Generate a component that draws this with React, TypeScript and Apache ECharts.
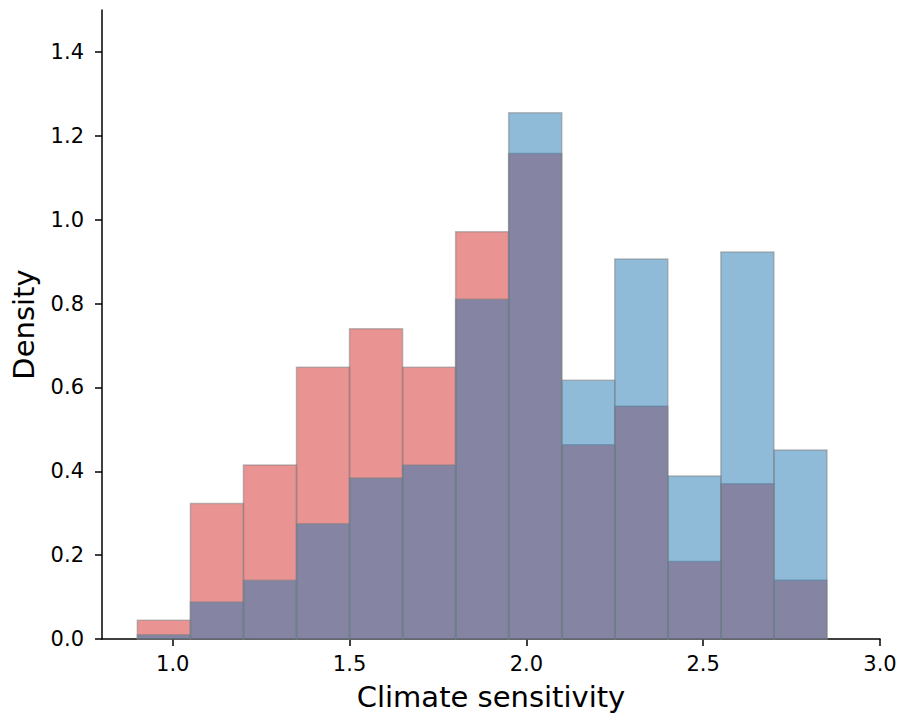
import React, { useEffect, useRef } from "react";
import * as echarts from "echarts";

const binEdges = [0.9, 1.05, 1.2, 1.35, 1.5, 1.65, 1.8, 1.95, 2.1, 2.25, 2.4, 2.55, 2.7, 2.85];
const redDensity = [0.045, 0.323, 0.415, 0.648, 0.740, 0.648, 0.971, 1.158, 0.463, 0.555, 0.185, 0.370, 0.140];
const blueDensity = [0.010, 0.088, 0.140, 0.275, 0.384, 0.415, 0.810, 1.255, 0.617, 0.906, 0.389, 0.923, 0.451];
const xTicks = [1.0, 1.5, 2.0, 2.5, 3.0];
const yTicks = [0, 0.2, 0.4, 0.6, 0.8, 1.0, 1.2, 1.4];

const toData = (vals: number[]) => vals.map((v, i) => [binEdges[i], binEdges[i + 1], v]);

const makeSeries = (vals: number[], fill: string) => ({
  type: "custom",
  data: toData(vals),
  encode: { x: [0, 1], y: 2 },
  renderItem: (params: any, api: any) => {
    const p0 = api.coord([api.value(0), 0]);
    const p1 = api.coord([api.value(1), api.value(2)]);
    return {
      type: "rect",
      shape: { x: p0[0], y: p1[1], width: p1[0] - p0[0], height: p0[1] - p1[1] },
      style: { fill, stroke: "rgba(128,128,128,0.5)", lineWidth: 1.5 },
    };
  },
});

export default function App() {
  const ref = useRef<HTMLDivElement>(null);
  useEffect(() => {
    const chart = echarts.init(ref.current!, null, { renderer: "svg" });
    const font = "DejaVu Sans";
    chart.setOption({
      animation: false,
      grid: { left: 102, right: 21, top: 10, bottom: 75 },
      xAxis: {
        type: "value",
        min: 0.8,
        max: 3.0,
        name: "Climate sensitivity",
        nameLocation: "middle",
        nameGap: 43,
        nameTextStyle: { fontFamily: font, fontSize: 29, color: "#000" },
        axisLine: { show: true, lineStyle: { color: "#000", width: 1.5 } },
        axisTick: { show: true, length: 7, lineStyle: { color: "#000", width: 1.5 }, customValues: xTicks },
        axisLabel: {
          fontFamily: font, fontSize: 21, color: "#000", margin: 14,
          customValues: xTicks,
          formatter: (v: number) => v.toFixed(1),
        },
        splitLine: { show: false },
      },
      yAxis: {
        type: "value",
        min: 0,
        max: 1.5,
        name: "Density",
        nameLocation: "middle",
        nameGap: 64,
        nameTextStyle: { fontFamily: font, fontSize: 29, color: "#000" },
        axisLine: { show: true, lineStyle: { color: "#000", width: 1.5 } },
        axisTick: { show: true, length: 7, lineStyle: { color: "#000", width: 1.5 }, customValues: yTicks },
        axisLabel: {
          fontFamily: font, fontSize: 21, color: "#000", margin: 18,
          customValues: yTicks,
          formatter: (v: number) => v.toFixed(1),
        },
        splitLine: { show: false },
      },
      series: [
        makeSeries(redDensity, "rgba(214,39,40,0.5)"),
        makeSeries(blueDensity, "rgba(31,119,180,0.5)"),
      ],
    });
    return () => chart.dispose();
  }, []);
  return <div ref={ref} style={{ position: "absolute", left: 0, top: 0, width: 901, height: 716 }} />;
}
